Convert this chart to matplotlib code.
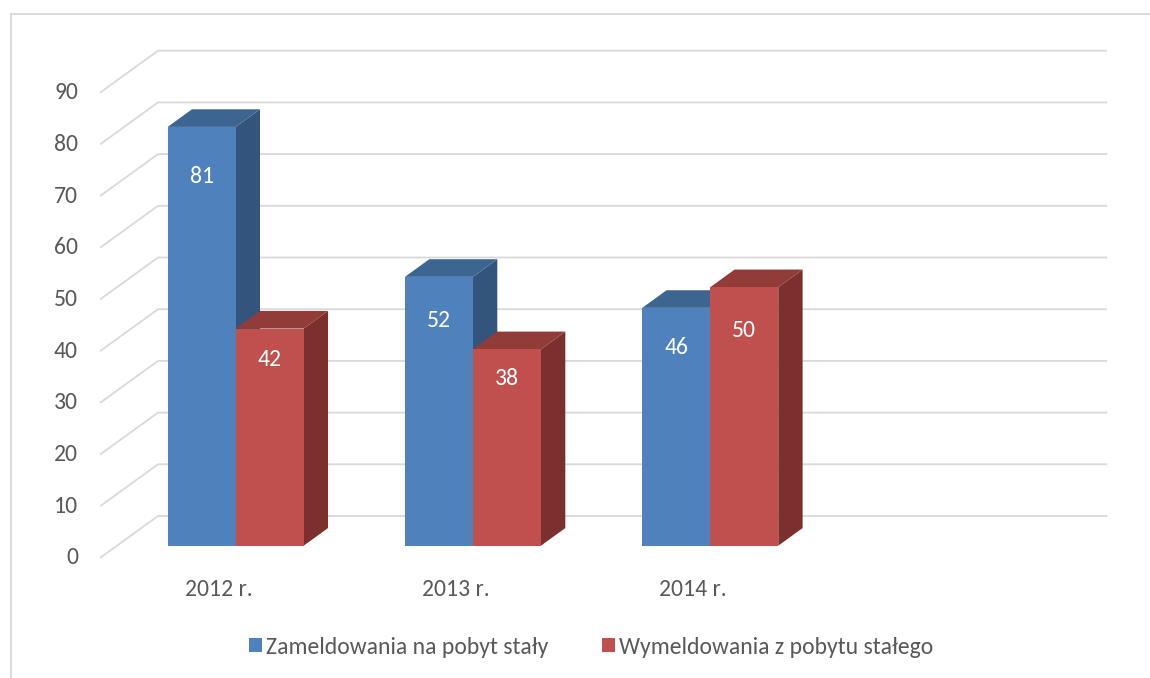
import matplotlib
matplotlib.use("Agg")
import matplotlib.pyplot as plt
from matplotlib.patches import Polygon
from matplotlib.lines import Line2D

# ---- data ----
categories = ["2012 r.", "2013 r.", "2014 r.", ""]
series_names = ["Zameldowania na pobyt stały", "Wymeldowania z pobytu stałego"]
zameldowania = [81, 52, 46, None]
wymeldowania = [42, 38, 50, None]
y_ticks = [0, 10, 20, 30, 40, 50, 60, 70, 80, 90]

# ---- style ----
face_cols = ["#4F81BD", "#C0504D"]
top_cols = ["#3D6591", "#923C3A"]
side_cols = ["#33547D", "#7C302E"]
grid_col = "#D9D9D9"
text_col = "#595959"
font = ["Carlito", "Lato", "DejaVu Sans"]
fs = 17
# vertical distance (px) of each data label below its bar top
label_drop = [[50, 44, 40], [31, 29, 43]]

W, H = 1150, 678
fig = plt.figure(figsize=(W / 100, H / 100), dpi=100)

px_left, px_zero = 100.0, 558.0
cat_px = 237.3
val_px = 5.17
depth_px = (58.0, -42.0)

ax_left_px, ax_right_px = 100.0, 1110.0
ax_top_px, ax_bot_px = 40.0, 575.0
xlim = (-0.5, -0.5 + (ax_right_px - ax_left_px) / cat_px)
ylim = ((px_zero - ax_bot_px) / val_px, (px_zero - ax_top_px) / val_px)
ax = fig.add_axes([ax_left_px / W, 1 - ax_bot_px / H,
                   (ax_right_px - ax_left_px) / W, (ax_bot_px - ax_top_px) / H])
ax.set_xlim(*xlim)
ax.set_ylim(*ylim)
ax.axis("off")

dzx = depth_px[0] / cat_px
dzy = -depth_px[1] / val_px

def P(x, v, z):
    return (x + z * dzx, v + z * dzy)

ncat = len(categories)
x_lo, x_hi = -0.5, ncat - 0.5

for v in y_ticks:
    xs0, ys0 = P(x_lo, v, 0)
    xs1, ys1 = P(x_lo, v, 1)
    xe, ye = P(x_hi, v, 1)
    ax.plot([xs0, xs1, xe], [ys0, ys1, ye], color=grid_col, lw=1.3,
            solid_capstyle="butt", zorder=1)
    ax.text(xs0 - 22 / cat_px, ys0, str(v), ha="right", va="center",
            fontsize=fs, color=text_col, family=font)

bw = 0.2866
z_front, z_back = 0.293, 0.713
for i in range(ncat):
    for s, vals in enumerate([zameldowania, wymeldowania]):
        v = vals[i]
        if v is None:
            continue
        x0 = i - bw + s * bw
        x1 = x0 + bw
        side = [P(x1, 0, z_front), P(x1, 0, z_back), P(x1, v, z_back), P(x1, v, z_front)]
        top = [P(x0, v, z_front), P(x1, v, z_front), P(x1, v, z_back), P(x0, v, z_back)]
        front = [P(x0, 0, z_front), P(x1, 0, z_front), P(x1, v, z_front), P(x0, v, z_front)]
        zo = 3 + i * 3 + s
        ax.add_patch(Polygon(side, closed=True, fc=side_cols[s], ec="none", zorder=zo))
        ax.add_patch(Polygon(top, closed=True, fc=top_cols[s], ec="none", zorder=zo))
        ax.add_patch(Polygon(front, closed=True, fc=face_cols[s], ec="none", zorder=zo))
        cx, cy = P((x0 + x1) / 2, v, z_front)
        ax.text(cx, cy - label_drop[s][i] / val_px, str(v), ha="center", va="center",
                fontsize=fs, color="white", family=font, zorder=50)

for i, c in enumerate(categories):
    if c:
        cx, cy = P(i, 0, 0)
        ax.text(cx, cy - 31 / val_px, c, ha="center", va="center",
                fontsize=fs, color=text_col, family=font)

fig.add_artist(Line2D([10.5 / W, 10.5 / W], [0, 1 - 13.5 / H], color="#D9D9D9",
                      lw=1.3, transform=fig.transFigure))
fig.add_artist(Line2D([10.5 / W, 1], [1 - 13.5 / H, 1 - 13.5 / H], color="#D9D9D9",
                      lw=1.3, transform=fig.transFigure))

handles = [plt.Rectangle((0, 0), 1, 1, fc=face_cols[k], ec="none") for k in range(2)]
leg = fig.legend(handles, series_names, loc="center", bbox_to_anchor=(591 / W, 1 - 647 / H),
                 ncol=2, frameon=False, prop={"family": font, "size": fs},
                 handlelength=0.55, handleheight=0.55, handletextpad=0.17,
                 columnspacing=2.29, borderpad=0.1)
for t in leg.get_texts():
    t.set_color(text_col)

fig.savefig("out.png", dpi=100)
